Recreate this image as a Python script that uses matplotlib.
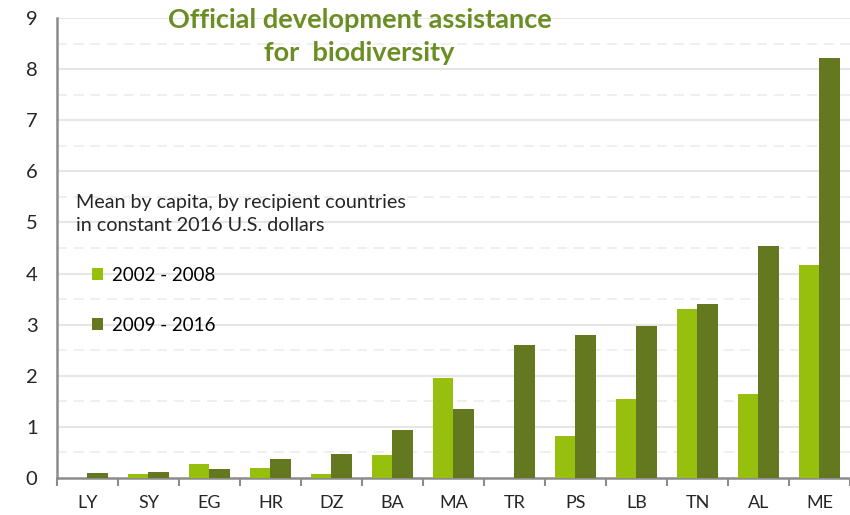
import numpy as np
import matplotlib.pyplot as plt
from matplotlib.ticker import MultipleLocator

countries = ["LY", "SY", "EG", "HR", "DZ", "BA", "MA", "TR", "PS", "LB", "TN", "AL", "ME"]
p2002_2008 = [0.0, 0.08, 0.27, 0.20, 0.07, 0.44, 1.95, 0.0, 0.82, 1.55, 3.31, 1.65, 4.17]
p2009_2016 = [0.09, 0.12, 0.17, 0.37, 0.47, 0.93, 1.34, 2.60, 2.80, 2.98, 3.41, 4.54, 8.22]
series_labels = ["2002 - 2008", "2009 - 2016"]

light_green = "#97bf0d"
dark_green = "#63781f"
title_green = "#6b8e23"

plt.rcParams['font.family'] = ['Lato', 'DejaVu Sans']

fig = plt.figure(figsize=(8.5, 5.15), dpi=100)
ax = fig.add_axes([0.067, 0.072, 0.933, 0.893])

x = np.arange(len(countries))
w = 0.33
ax.bar(x - w / 2, p2002_2008, w, color=light_green, label=series_labels[0], zorder=3)
ax.bar(x + w / 2, p2009_2016, w, color=dark_green, label=series_labels[1], zorder=3)

ax.set_xlim(-0.5, len(countries) - 0.5)
ax.set_ylim(0, 9)

# grid: solid on integers, dashed on halves
for v in np.arange(1, 9.5, 1):
    ax.axhline(v, color="#e6e6e6", lw=1.5, zorder=0)
for v in np.arange(0.5, 9, 1):
    ax.axhline(v, color="#ececec", lw=1.2, ls=(0, (6, 4)), zorder=0)

ax.yaxis.set_major_locator(MultipleLocator(1))
ax.set_xticks(x)
ax.set_xticklabels(countries)
ax.set_xticks(np.arange(-0.5, len(countries), 1), minor=True)
ax.tick_params(axis="x", which="major", length=0, pad=12, labelsize=13, labelcolor="#262626")
ax.tick_params(axis="x", which="minor", length=6, width=1.5, color="#8c8c8c", direction="out")
ax.tick_params(axis="y", length=0, pad=14, labelsize=14.5, labelcolor="#262626")

for s in ["top", "right"]:
    ax.spines[s].set_visible(False)
for s in ["left", "bottom"]:
    ax.spines[s].set_color("#8c8c8c")
    ax.spines[s].set_linewidth(1.8)

fig.text(0.423, 0.985, "Official development assistance\nfor  biodiversity", ha="center", va="top",
         fontsize=19.5, fontweight="bold", color=title_green, linespacing=1.45)
fig.text(0.089, 0.585, "Mean by capita, by recipient countries\nin constant 2016 U.S. dollars",
         ha="left", va="center", fontsize=14.2, color="#262626", linespacing=1.45)

ax.legend(loc="upper left", bbox_to_anchor=(0.108, 0.482), bbox_transform=fig.transFigure,
          frameon=False, fontsize=13.5, handlelength=0.6, handleheight=0.6, handletextpad=0.5,
          labelspacing=1.75, borderaxespad=0, borderpad=0)

fig.savefig("out.png", dpi=100)
